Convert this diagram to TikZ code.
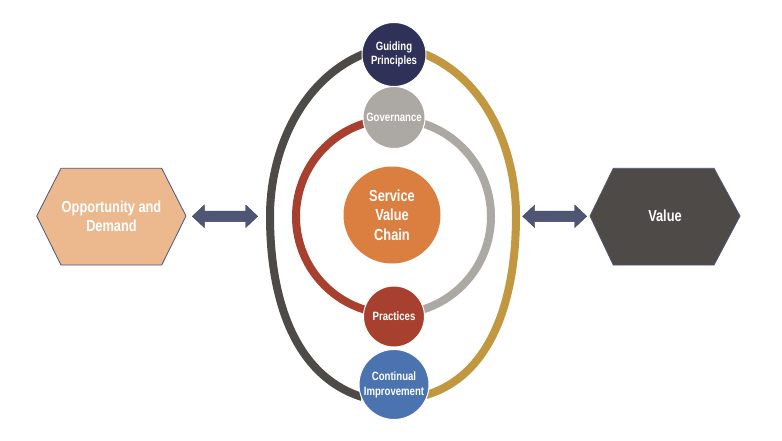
\documentclass[tikz,border=0pt]{standalone}
\usepackage{fontspec}
\usetikzlibrary{calc}
\setmainfont{Liberation Sans}[FakeStretch=0.8]
\begin{document}
\begin{tikzpicture}[x=1pt,y=-1pt,
  lbl/.style={text=white,font=\bfseries,align=center,inner sep=0pt},
  bubble/.style={circle,draw=white,line width=1pt,inner sep=0pt,lbl},
  hexa/.style={draw=hexline,line width=0.8pt,line join=miter},
  ring/.style={line width=8pt,line cap=butt},
  dblarrow/.style={fill=arrowc,draw=arrowc!80!black,line width=0.4pt}]
\definecolor{hexline}{HTML}{4F5575}
\definecolor{oppc}{HTML}{ECB98F}
\definecolor{valc}{HTML}{4D4A47}
\definecolor{arrowc}{HTML}{4E5674}
\definecolor{darkarc}{HTML}{4D4A47}
\definecolor{goldarc}{HTML}{C1983F}
\definecolor{redc}{HTML}{A8402F}
\definecolor{greyc}{HTML}{ACA8A4}
\definecolor{navyc}{HTML}{2F3159}
\definecolor{orangec}{HTML}{DB7F40}
\definecolor{bluec}{HTML}{4A73B0}

\useasboundingbox (0,0) rectangle (782,440);
\fill[white] (0,0) rectangle (782,440);

% outer loop: dark left half, gold right half
\draw[ring,darkarc] (366,53) .. controls (302,78) and (270,150) .. (270,216)
  .. controls (270,302) and (296,376) .. (362,397);
\draw[ring,goldarc] (422,53) .. controls (486,78) and (516,150) .. (516,216)
  .. controls (516,302) and (490,376) .. (426,395);

% inner ring: red left half, grey right half (y grows downwards)
\draw[ring,redc] (393.5,119) arc[start angle=-90,end angle=-270,radius=97.5];
\draw[ring,greyc] (393.5,119) arc[start angle=-90,end angle=90,radius=97.5];

% circles
\node[bubble,fill=navyc,minimum size=64pt,font=\bfseries\fontsize{12}{14}\selectfont] (gp) at (394,54.5) {Guiding\\Principles};
\node[bubble,fill=greyc,minimum size=62pt,font=\bfseries\fontsize{12}{14}\selectfont] (gov) at (394,117.5) {Governance};
\node[bubble,fill=orangec,minimum size=97pt,draw=none,font=\bfseries\fontsize{16}{19.5}\selectfont] (svc) at (392,215) {Service\\Value\\Chain};
\node[bubble,fill=redc,minimum size=61pt,font=\bfseries\fontsize{12}{14}\selectfont] (pr) at (394,316.5) {Practices};
\node[bubble,fill=bluec,minimum size=70pt,font=\bfseries\fontsize{12}{15}\selectfont] (ci) at (394,384.5) {Continual\\Improvement};

% hexagons
\draw[hexa,fill=oppc] (36.7,216) -- (61,168.3) -- (161.7,168.3) -- (186,216) -- (161.7,265) -- (61,265) -- cycle;
\node[lbl,font=\bfseries\fontsize{16}{19}\selectfont] (opp) at (111.5,216) {Opportunity and\\Demand};
\draw[hexa,fill=valc] (590,216) -- (613.3,168.3) -- (714,168.3) -- (740,216) -- (714,265) -- (613.3,265) -- cycle;
\node[lbl,font=\bfseries\fontsize{16}{19}\selectfont] (val) at (665,216) {Value};

% double-headed arrows
\coordinate (la) at (192.3,216.3);
\coordinate (lb) at (257.7,216.3);
\coordinate (ra) at (522.7,216.3);
\coordinate (rb) at (586.7,216.3);
\draw[dblarrow] (la) -- ++(12,-11.3) -- ++(0,6) -- ($(lb)+(-12,-5.3)$) -- ++(0,-6) -- (lb)
  -- ++(-12,11.3) -- ++(0,-6) -- ($(la)+(12,5.3)$) -- ++(0,6) -- cycle;
\draw[dblarrow] (ra) -- ++(12,-11.3) -- ++(0,6) -- ($(rb)+(-12,-5.3)$) -- ++(0,-6) -- (rb)
  -- ++(-12,11.3) -- ++(0,-6) -- ($(ra)+(12,5.3)$) -- ++(0,6) -- cycle;
\end{tikzpicture}
\end{document}
